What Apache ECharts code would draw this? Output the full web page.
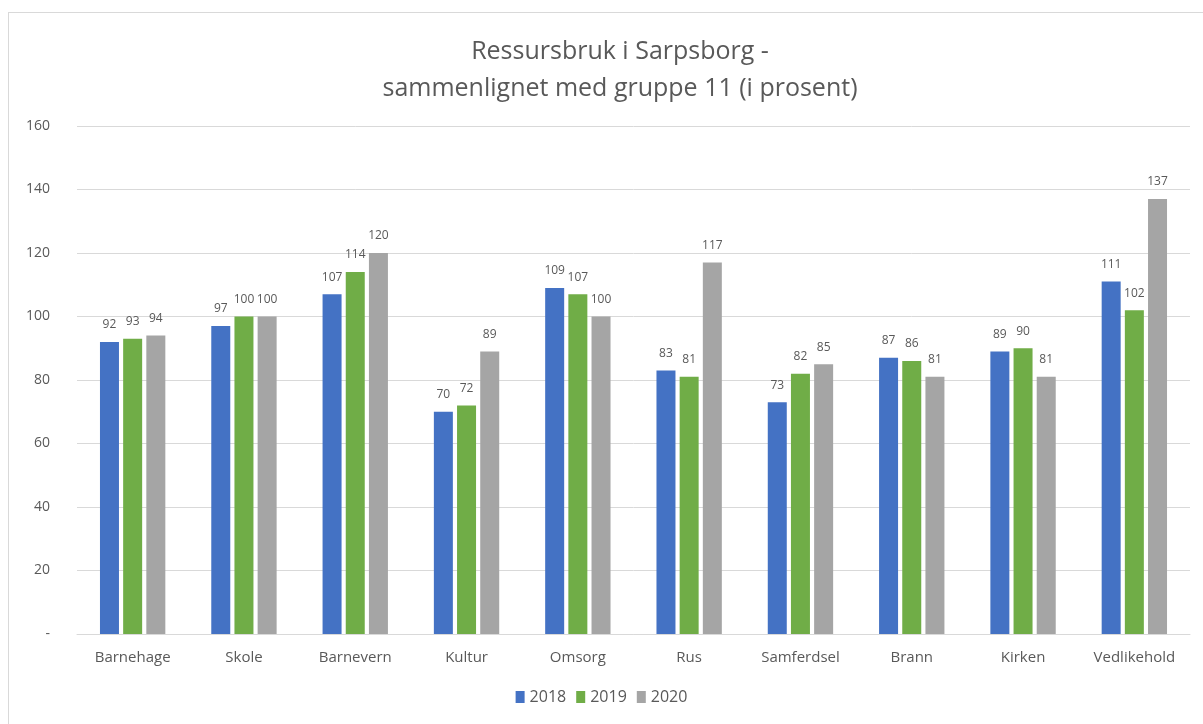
<!DOCTYPE html>
<html>
<head>
<meta charset="utf-8">
<script src="https://cdn.jsdelivr.net/npm/echarts@6/dist/echarts.min.js"></script>
<style>
  html, body { margin: 0; padding: 0; background: #fff; }
  #frame { position: absolute; left: 8px; top: 12px; width: 1210px; height: 730px; border: 1px solid #d9d9d9; }
  #chart { position: absolute; left: 0; top: 0; width: 1203px; height: 724px; }
</style>
</head>
<body>
<div id="frame"></div>
<div id="chart"></div>
<script>
const categories = ['Barnehage', 'Skole', 'Barnevern', 'Kultur', 'Omsorg', 'Rus', 'Samferdsel', 'Brann', 'Kirken', 'Vedlikehold'];
const years = ['2018', '2019', '2020'];
const values2018 = [92, 97, 107, 70, 109, 83, 73, 87, 89, 111];
const values2019 = [93, 100, 114, 72, 107, 81, 82, 86, 90, 102];
const values2020 = [94, 100, 120, 89, 100, 117, 85, 81, 81, 137];
const colors = ['#4472C4', '#70AD47', '#A5A5A5'];

const font = '"Open Sans", sans-serif';
const textColor = '#595959';

const makeSeries = (name, data, color) => ({
  name: name,
  type: 'bar',
  data: data,
  barWidth: 19,
  barGap: '22%',
  itemStyle: { color: color },
  label: {
    show: true,
    position: 'top',
    distance: 11,
    color: textColor,
    fontSize: 12,
    fontFamily: font
  }
});

const chart = echarts.init(document.getElementById('chart'));
chart.setOption({
  animation: false,
  title: {
    text: 'Ressursbruk i Sarpsborg -\nsammenlignet med gruppe 11 (i prosent)',
    left: 615,
    textAlign: 'center',
    top: 28,
    textStyle: {
      fontSize: 25,
      fontWeight: 'normal',
      color: textColor,
      fontFamily: font,
      lineHeight: 37
    }
  },
  legend: {
    data: years,
    bottom: 14,
    left: 'center',
    itemWidth: 9,
    itemHeight: 12,
    itemGap: 10,
    icon: 'rect',
    textStyle: { color: textColor, fontSize: 16, fontFamily: font }
  },
  grid: { left: 77, right: 13, top: 126, bottom: 90 },
  xAxis: {
    type: 'category',
    data: categories,
    axisTick: { show: false },
    axisLine: { lineStyle: { color: '#d9d9d9' } },
    axisLabel: { interval: 0, color: textColor, fontSize: 15, fontFamily: font, margin: 16 }
  },
  yAxis: {
    type: 'value',
    min: 0,
    max: 160,
    interval: 20,
    axisLabel: {
      color: textColor,
      fontSize: 14,
      fontFamily: font,
      margin: 27,
      formatter: v => (v === 0 ? '-' : v)
    },
    splitLine: { lineStyle: { color: '#d9d9d9' } }
  },
  series: [
    makeSeries(years[0], values2018, colors[0]),
    makeSeries(years[1], values2019, colors[1]),
    makeSeries(years[2], values2020, colors[2])
  ]
});
</script>
</body>
</html>
